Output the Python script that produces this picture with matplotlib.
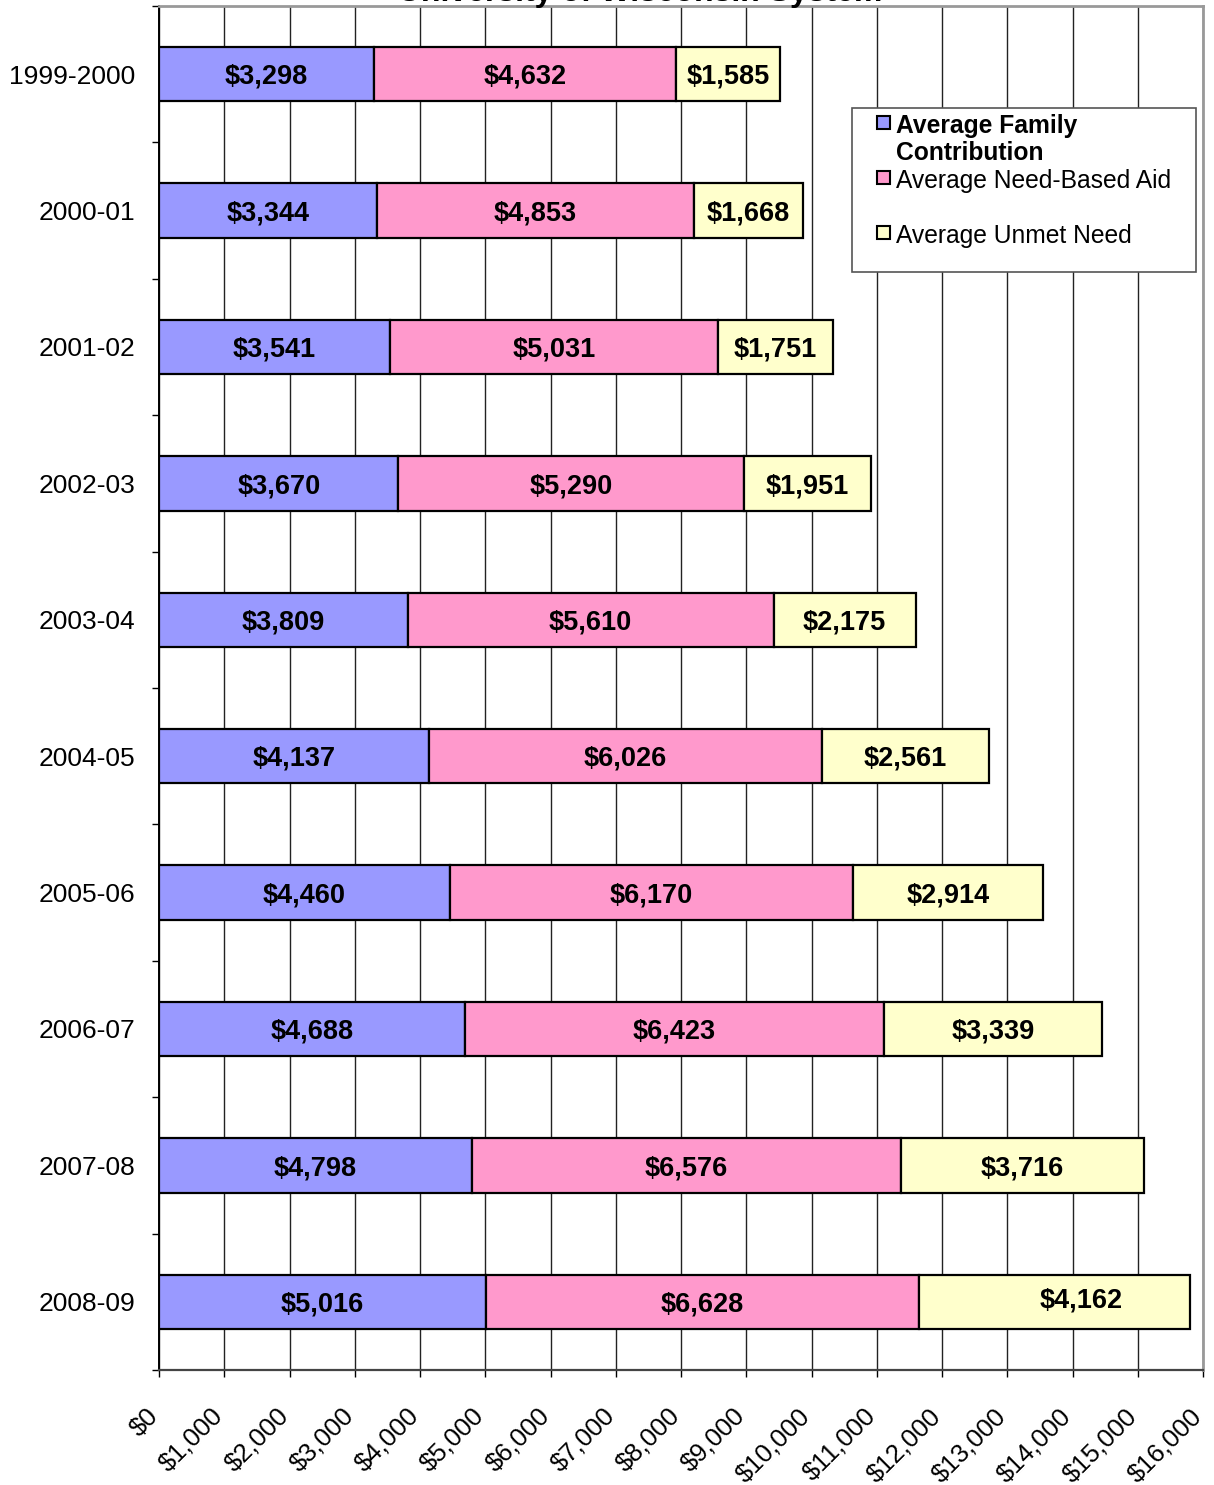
import matplotlib.pyplot as plt
from matplotlib.patches import Rectangle
from matplotlib.ticker import FuncFormatter, MultipleLocator

plt.rcParams['font.family'] = ['Liberation Sans', 'DejaVu Sans']

years = ['1999-2000', '2000-01', '2001-02', '2002-03', '2003-04',
         '2004-05', '2005-06', '2006-07', '2007-08', '2008-09']
family = [3298, 3344, 3541, 3670, 3809, 4137, 4460, 4688, 4798, 5016]
need_aid = [4632, 4853, 5031, 5290, 5610, 6026, 6170, 6423, 6576, 6628]
unmet = [1585, 1668, 1751, 1951, 2175, 2561, 2914, 3339, 3716, 4162]

series = ['Average Family\nContribution', 'Average Need-Based Aid', 'Average Unmet Need']
colors = ['#9999FF', '#FF99CC', '#FFFFCC']

W, H = 1214, 1485
fig = plt.figure(figsize=(W / 100, H / 100), dpi=100)
ax = fig.add_axes([159 / W, 1 - 1370 / H, 1044 / W, 1364 / H])

ypos = list(range(len(years)))
left = [0] * len(years)
for k, (vals, col) in enumerate(zip([family, need_aid, unmet], colors)):
    ax.barh(ypos, vals, left=left, height=0.40, color=col,
            edgecolor='black', linewidth=1.6, zorder=3)
    for y, l, v in zip(ypos, left, vals):
        tx, ty = l + v / 2, y + 0.02
        if k == 2 and y == len(years) - 1:
            # this label was dragged a little in the original
            tx, ty = tx + 400, y - 0.01
        ax.text(tx, ty, '${:,}'.format(v), ha='center', va='center',
                fontsize=19.5, fontweight='bold', zorder=4)
    left = [l + v for l, v in zip(left, vals)]

ax.set_xlim(0, 16000)
ax.set_ylim(len(years) - 0.5, -0.5)
ax.xaxis.set_major_locator(MultipleLocator(1000))
ax.xaxis.set_major_formatter(FuncFormatter(lambda x, p: '${:,.0f}'.format(x)))
ax.grid(axis='x', color='#222222', linewidth=1.0, zorder=0)
ax.set_axisbelow(True)

ax.set_yticks(ypos)
ax.set_yticklabels(years, fontsize=19)
ax.set_yticks([i + 0.5 for i in range(-1, len(years))], minor=True)
ax.tick_params(axis='y', which='major', length=0, pad=17)
ax.tick_params(axis='y', which='minor', length=5, width=1, direction='out')
ax.tick_params(axis='x', length=5, width=1, direction='out', pad=29)
for lbl in ax.get_xticklabels():
    lbl.set_rotation(45)
    lbl.set_ha('right')
    lbl.set_va('baseline')
    lbl.set_rotation_mode('anchor')
    lbl.set_fontsize(18.5)

ax.spines['top'].set_color('#999999')
ax.spines['right'].set_color('#999999')
ax.spines['top'].set_linewidth(2)
ax.spines['right'].set_linewidth(2)
ax.spines['bottom'].set_color('#444444')
ax.spines['bottom'].set_linewidth(1.6)
ax.spines['left'].set_linewidth(1.4)

fig.text(640 / W, 1 - 1 / H, 'University of Wisconsin System', ha='center',
         va='baseline', fontsize=23, fontweight='bold')

# legend box drawn in figure pixels
def fx(px):
    return px / W

def fy(py):
    return 1 - py / H

fig.patches.append(Rectangle((fx(852), fy(272)), fx(1196) - fx(852), (272 - 108) / H,
                             transform=fig.transFigure, facecolor='white',
                             edgecolor='#555555', linewidth=1.2, zorder=5))
leg_rows = [123, 178, 233]
for i, (lab, col, py) in enumerate(zip(series, colors, leg_rows)):
    fig.patches.append(Rectangle((fx(877), fy(py + 6)), 13 / W, 13 / H,
                                 transform=fig.transFigure, facecolor=col,
                                 edgecolor='black', linewidth=1.5, zorder=6))
    fig.text(fx(896), fy(py - 9), lab, ha='left', va='top', fontsize=17.7,
             fontweight='bold' if i == 0 else 'normal', linespacing=1.15, zorder=7)

fig.savefig('out.png', dpi=100)
